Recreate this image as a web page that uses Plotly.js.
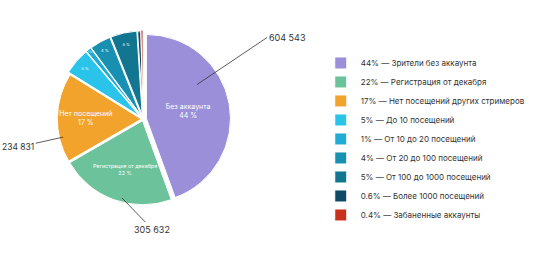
<!DOCTYPE html>
<html><head><meta charset="utf-8">
<script src="https://cdn.plot.ly/plotly-3.0.1.min.js"></script>
<style>html,body{margin:0;padding:0;background:#fff}#c{width:540px;height:277px}</style>
</head><body><div id="c"></div>
<script>
const legendLabels = ["44% — Зрители без аккаунта","22% — Регистрация от декабря","17% — Нет посещений других стримеров","5% — До 10 посещений","1% — От 10 до 20 посещений","4% — От 20 до 100 посещений","5% — От 100 до 1000 посещений","0.6% — Более 1000 посещений","0.4% — Забаненные аккаунты"];
const shares = [44,22,17,5,1,4,5,0.6,0.4];
const innerNames = ["Без аккаунта","Регистрация от декабря","Нет посещений","","","","","",""];
const innerPct = ["44 %","22 %","17 %","5 %","1 %","4 %","5 %","1 %",""];
const colors = ["#9a8fd8","#6cc39b","#f2a32b","#2ac3e9","#20acd4","#1890b2","#137690","#0e4a66","#c9301b"];
const counts = ["604 543","305 632","234 831"];
const pulls = [0.04,0.02,0.02,0.05,0.05,0.05,0.05,0.05,0.06];

const txt = innerNames.map((n,i)=> n ? n + "<br>" + innerPct[i] : innerPct[i]);
const txtSizes = [7,6,7,4,4,4,4,4,4];

const trace = {
  type:"pie", labels:legendLabels, values:shares, sort:false, direction:"clockwise", rotation:0,
  text:txt, textinfo:"text", textposition:"inside", insidetextorientation:"horizontal",
  textfont:{family:"Inter, Open Sans, sans-serif", size:txtSizes, color:"#ffffff"},
  marker:{colors:colors, line:{color:"#ffffff", width:1}},
  pull:pulls, hoverinfo:"label",
  domain:{x:[0.1,0.43], y:[0.23,0.91]}
};

const layout = {
  width:540, height:277, margin:{l:0,r:0,t:0,b:0},
  paper_bgcolor:"#ffffff", plot_bgcolor:"#ffffff",
  font:{family:"Inter, Open Sans, sans-serif", color:"#333333"},
  showlegend:true,
  legend:{x:0.594, y:0.825, xanchor:"left", yanchor:"top", font:{size:8, color:"#333333"}, bgcolor:"rgba(0,0,0,0)"},
  annotations:[
    {xref:"paper", yref:"paper", x:0.365, y:0.695, ax:70, ay:-47, text:counts[0], showarrow:true, arrowhead:0, arrowwidth:0.8, arrowcolor:"#333", font:{size:9,color:"#333"}, xanchor:"left"},
    {xref:"paper", yref:"paper", x:0.226, y:0.285, ax:30, ay:31, text:counts[1], showarrow:true, arrowhead:0, arrowwidth:0.8, arrowcolor:"#333", font:{size:9,color:"#333"}},
    {xref:"paper", yref:"paper", x:0.117, y:0.505, ax:-45, ay:10, text:counts[2], showarrow:true, arrowhead:0, arrowwidth:0.8, arrowcolor:"#333", font:{size:8.5,color:"#333"}}
  ]
};
Plotly.newPlot("c",[trace],layout,{displayModeBar:false,staticPlot:true});
</script></body></html>
